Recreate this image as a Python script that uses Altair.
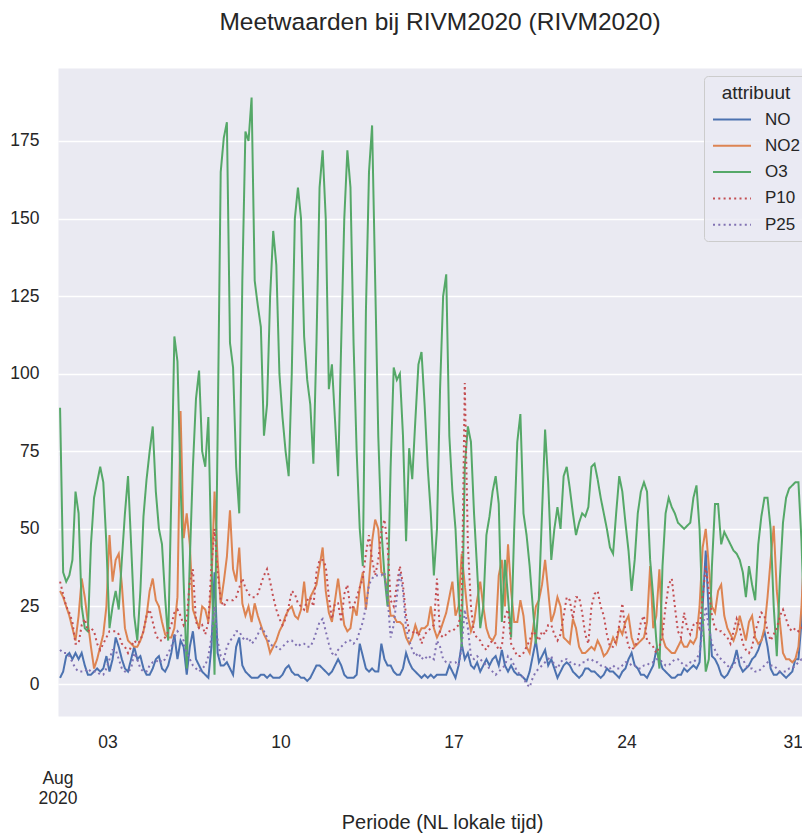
import altair as alt
import pandas as pd

FONT = "Liberation Sans"
TXT = "#262626"

# samples: first sample Aug 1 02:00 (local), one every 3 hours
START = "2020-08-01 02:00"
STEP_HOURS = 3

NO = [2, 4, 9, 10, 8, 10, 8, 10,
      6, 3, 3, 4, 5, 4, 5, 9,
      4, 8, 15, 12, 8, 5, 4, 8,
      12, 8, 9, 5, 3, 3, 5, 8,
      9, 5, 4, 6, 10, 16, 8, 14,
      12, 3, 12, 17, 8, 6, 4, 3,
      2, 12, 36, 10, 6, 6, 7, 5,
      3, 12, 15, 6, 4, 3, 2, 2,
      2, 3, 3, 2, 3, 2, 2, 2,
      3, 5, 6, 4, 3, 3, 2, 2,
      1, 2,
      4, 6, 6, 5, 4, 3, 4, 6,
      8, 6, 3, 2, 2, 2, 3, 13,
      9, 5, 4, 5, 4, 4, 13, 8,
      6, 6, 4, 3, 3, 5, 10, 7,
      5, 4, 3, 2, 3, 2, 3, 2,
      3, 3, 3, 3, 6, 4, 2, 6,
      13, 8, 10, 6, 5, 7, 4, 6,
      8, 6, 8, 9, 6, 11, 6, 4,
      6, 4, 3, 3, 2, 1, 4, 9,
      14, 7, 9, 11, 6, 8, 5, 2,
      4, 6, 7, 6, 4, 3, 2, 3,
      5, 5, 4, 4, 3, 2, 3, 5,
      4, 4, 3, 2, 4, 5, 8, 10,
      6, 5, 3, 3, 2, 4, 6, 11,
      8, 5, 4, 3, 2, 2, 3, 3,
      5, 4, 5, 6, 5, 7, 25, 43,
      22, 9, 8, 6, 3, 2, 3, 5,
      7, 11, 6, 4, 5, 6, 8, 9,
      11, 14, 17, 12, 5, 3, 3, 4,
      3, 2, 3, 4, 8, 8, 20, 50,
      25, 8]

NO2 = [30, 28, 25, 22, 18, 14, 22, 34,
       28, 20, 12, 5, 8, 12, 16, 25,
       48, 33, 40, 42, 32, 18, 14, 13,
       12, 12, 14, 17, 22, 30, 34, 27,
       25, 20, 16, 15, 15, 18, 28, 88,
       47, 55, 45, 24, 21, 18, 25, 24,
       20, 32, 62, 40, 26, 33, 41, 56,
       37, 33, 44, 26, 22, 25, 20, 26,
       22, 19, 16, 14, 10, 12, 14, 17,
       19, 22, 24, 25, 22, 21, 24, 33,
       23, 28,
       30, 32, 38, 44, 30, 23, 20, 27,
       34, 26, 19, 17, 18, 25, 22, 31,
       36, 24, 33, 46, 53, 50, 36, 35,
       30, 22, 22, 20, 20, 19, 15, 13,
       15, 19, 16, 18, 18, 19, 25, 18,
       15, 17, 20, 23, 28, 33, 22, 25,
       42, 32, 22, 17, 20, 27, 33, 25,
       18, 15, 14, 16, 35, 40, 25, 45,
       30, 20, 20, 27, 22, 12, 10, 17,
       25, 27, 32, 40, 30, 20, 23, 28,
       25, 15, 14, 13, 21, 18, 12, 10,
       10, 11, 12, 11, 14, 12, 9, 10,
       12, 15, 13, 18, 16, 20, 22, 15,
       12, 13, 14, 15, 20, 38, 18, 22,
       37, 15, 12, 11, 10, 10, 12, 14,
       12, 12, 14, 13, 15, 25, 44, 50,
       38, 25, 23, 30, 32, 22, 18, 16,
       14, 17, 22, 18, 14, 20, 22, 15,
       13, 14, 18, 28, 40, 51, 30, 20,
       10, 8, 8, 7, 8, 12, 25, 47,
       15, 18]

O3 = [89, 36, 33, 35, 40, 62, 55, 25,
      18, 17, 45, 60, 65, 70, 65, 45,
      18, 25, 30, 24, 40, 55, 67, 45,
      22, 14, 30, 54, 66, 75, 83, 62,
      50, 45, 28, 14, 60, 112, 104, 65,
      33, 5, 40, 70, 92, 101, 75, 70,
      86, 40, 3, 80, 165, 176, 181, 110,
      102, 70, 55, 130, 178, 175, 189, 130,
      122, 115, 80, 90, 125, 146, 135, 100,
      86, 75, 67, 100, 150, 160, 150, 112,
      98, 90,
      71, 110, 160, 172, 150, 95, 103, 85,
      67, 110, 150, 172, 160, 110, 75, 50,
      38, 120, 165, 180, 130, 80, 50, 35,
      25, 70, 102, 98, 100, 80, 46, 76,
      66, 85, 103, 107, 90, 70, 55, 35,
      50, 95, 125, 132, 80, 62, 50, 28,
      12, 70, 83, 78, 55, 37, 18, 25,
      48, 54, 62, 67, 58, 20, 40, 28,
      15, 50, 78, 87, 55, 48, 38, 25,
      13, 28, 55, 82, 65, 40, 50, 57,
      50, 67, 70, 63, 55, 48, 52, 55,
      54, 57, 70, 71, 66, 60, 55, 50,
      44, 42, 55, 67, 62, 52, 43, 30,
      40, 55, 62, 65, 62, 40, 28, 14,
      5, 38, 55, 60, 57, 55, 52, 51,
      50, 51, 52, 60, 64, 50, 22, 4,
      8, 38, 58, 58, 45, 49, 47, 45,
      43, 42, 40, 36, 28, 38, 32, 27,
      45, 54, 60, 60, 50, 25, 9, 34,
      52, 60, 63, 64, 65, 65, 46, 14,
      38, 53]

P10 = [33, 29, 25, 23, 20, 13, 13, 19,
       21, 17, 18, 17, 13, 11, 13, 15,
       17, 17, 17, 16, 13, 12, 10, 12,
       14, 13, 14, 17, 22, 24, 20, 16,
       14, 14, 15, 17, 19, 23, 24, 22,
       19, 21, 33, 37, 20, 18, 19, 16,
       20, 38, 50, 36, 27, 25, 27, 27,
       27, 28, 31, 34, 31, 29, 28, 28,
       29, 32, 35, 37, 33, 28, 24, 21,
       19, 21, 25, 30, 29, 26, 25, 24,
       27, 28,
       25, 36, 40, 40, 38, 28, 21, 26,
       26, 20, 29, 32, 24, 25, 28, 31,
       34, 42, 48, 40, 35, 40, 49, 53,
       45, 27, 25, 32, 38, 32, 22, 17,
       17, 16, 17, 13, 16, 17, 18, 19,
       34, 16, 15, 16, 17, 17, 18, 19,
       25, 97, 45, 25, 16, 15, 14, 12,
       11, 13, 14, 13, 11, 12, 22, 24,
       13, 11, 9, 9, 10, 12, 14, 17,
       16, 14, 17, 16, 19, 19, 16, 14,
       16, 22, 28, 27, 21, 28, 28, 23,
       16, 13, 25, 29, 30, 25, 22, 16,
       12, 12, 14, 19, 26, 17, 12, 11,
       12, 14, 20, 22, 14, 13, 12, 10,
       12, 16, 25, 32, 34, 25, 17, 15,
       23, 18, 16, 19, 20, 18, 28, 38,
       30, 22, 18, 17, 17, 16, 15, 13,
       17, 21, 18, 13, 11, 10, 12, 17,
       20, 23, 22, 17, 14, 16, 18, 22,
       24, 21, 18, 17, 18, 17, 18, 19,
       17, 16]

P25 = [11, 10, 10, 9, 7, 5, 4, 4,
       4, 5, 4, 4, 4, 3, 3, 5,
       8, 11, 11, 8, 5, 4, 4, 5,
       10, 8, 5, 4, 4, 6, 7, 7,
       8, 7, 8, 10, 12, 15, 17, 16,
       14, 10, 8, 6, 5, 4, 5, 6,
       9, 15, 25, 14, 9, 8, 12, 14,
       15, 17, 17, 15, 14, 15, 13, 14,
       16, 18, 17, 15, 13, 12, 12, 11,
       12, 13, 14, 14, 13, 12, 13, 13,
       12, 12,
       14, 17, 20, 21, 17, 13, 10, 9,
       11, 12, 13, 14, 14, 13, 14, 17,
       20, 25, 32, 34, 35, 35, 35, 36,
       28, 15, 19, 28, 36, 30, 18, 14,
       11, 9, 10, 8, 9, 8, 9, 8,
       14, 12, 8, 7, 7, 7, 7, 6,
       12, 24, 18, 9, 8, 9, 8, 7,
       6, 5, 4, 3, 4, 5, 6, 9,
       8, 6, 4, 3, 2, 0, -1, 2,
       4, 5, 6, 7, 8, 9, 6, 5,
       7, 8, 8, 7, 7, 6, 6, 7,
       7, 8, 8, 7, 7, 6, 6, 5,
       5, 6, 5, 5, 6, 7, 7, 6,
       6, 5, 5, 6, 6, 7, 7, 8,
       8, 7, 6, 6, 7, 8, 8, 7,
       6, 6, 7, 7, 8, 10, 18, 25,
       18, 13, 11, 9, 8, 7, 6, 5,
       6, 8, 9, 8, 6, 5, 5, 4,
       4, 5, 6, 7, 6, 6, 5, 4,
       4, 4, 5, 5, 6, 7, 8, 8,
       8, 9]

SERIES = ["NO", "NO2", "O3", "P10", "P25"]
COLORS = ["#4C72B0", "#DD8452", "#55A868", "#C44E52", "#8172B3"]
DASHES = [[1, 0], [1, 0], [1, 0], [2, 3.3], [2, 3.3]]
Y_TICKS = [0, 25, 50, 75, 100, 125, 150, 175]
X_TICK_DAYS = [3, 10, 17, 24, 31]

values = {"NO": NO, "NO2": NO2, "O3": O3, "P10": P10, "P25": P25}
start = pd.Timestamp(START)
rows = []
for name in SERIES:
    for i, v in enumerate(values[name]):
        rows.append({"time": start + pd.Timedelta(hours=STEP_HOURS * i),
                     "value": v, "attribuut": name})
df = pd.DataFrame(rows)

x_dom = [alt.DateTime(year=2020, month=8, date=1, hours=0),
         alt.DateTime(year=2020, month=8, date=31, hours=2, minutes=28)]

x_enc = alt.X(
    "time:T",
    scale=alt.Scale(domain=x_dom),
    axis=alt.Axis(
        values=[alt.DateTime(year=2020, month=8, date=d) for d in X_TICK_DAYS],
        format="%d", title="Periode (NL lokale tijd)", grid=False, domain=False,
        ticks=False, tickSize=0, labelPadding=17, labelFontSize=17.5,
        labelFont=FONT, labelColor=TXT, titleFont=FONT, titleFontSize=20,
        titleFontWeight="normal", titleColor=TXT, titleX=384, titleY=112,
        titleBaseline="alphabetic", titleAlign="center",
        labelFlush=5, labelFlushOffset=3,
    ),
)

legend = alt.Legend(
    title="attribuut", orient="none", legendX=646, legendY=8,
    fillColor="rgba(234,234,242,0.8)", strokeColor="#CCCCCC", cornerRadius=4,
    padding=8, symbolType="M-1,0H3", symbolSize=361, symbolStrokeWidth=2,
    labelFontSize=17, labelFont=FONT, labelColor=TXT, labelOffset=32,
    titleFontSize=19, titleFont=FONT, titleFontWeight="normal", titleColor=TXT,
    titleAnchor="middle", titlePadding=6, rowPadding=7.3,
)

lines = alt.Chart(df).mark_line(strokeWidth=2, clip=True, strokeCap="butt").encode(
    x=x_enc,
    y=alt.Y(
        "value:Q",
        scale=alt.Scale(domain=[-10.3, 198.5], nice=False, zero=False),
        axis=alt.Axis(values=Y_TICKS, title=None, domain=False, ticks=False,
                      tickSize=0, labelPadding=19, labelFontSize=17.5,
                      labelFont=FONT, labelColor=TXT, gridColor="white",
                      gridWidth=1.3),
    ),
    color=alt.Color("attribuut:N",
                    scale=alt.Scale(domain=SERIES, range=COLORS),
                    legend=legend),
    strokeDash=alt.StrokeDash("attribuut:N",
                              scale=alt.Scale(domain=SERIES, range=DASHES),
                              legend=legend),
    order=alt.Order("time:T"),
)

aug_df = pd.DataFrame({"time": [pd.Timestamp("2020-08-01 00:00")],
                       "lbl": ["Aug\n2020"]})
aug = alt.Chart(aug_df).mark_text(
    align="center", baseline="alphabetic", fontSize=17.5, font=FONT,
    color=TXT, lineBreak="\n", lineHeight=20,
).encode(x=x_enc, y=alt.value(716), text="lbl:N")

chart = alt.layer(lines, aug).properties(
    width=744, height=648,
    title=alt.TitleParams("Meetwaarden bij RIVM2020 (RIVM2020)", fontSize=24.5,
                          font=FONT, color=TXT, fontWeight="normal",
                          anchor="middle", frame="group", offset=33, dx=10),
    autosize=alt.AutoSizeParams(type="none"),
    padding={"left": 50, "top": 60, "right": 0, "bottom": 118},
).configure_view(fill="#EAEAF2", stroke="transparent")

chart.save("out.html", embed_options={"renderer": "svg", "actions": False})
